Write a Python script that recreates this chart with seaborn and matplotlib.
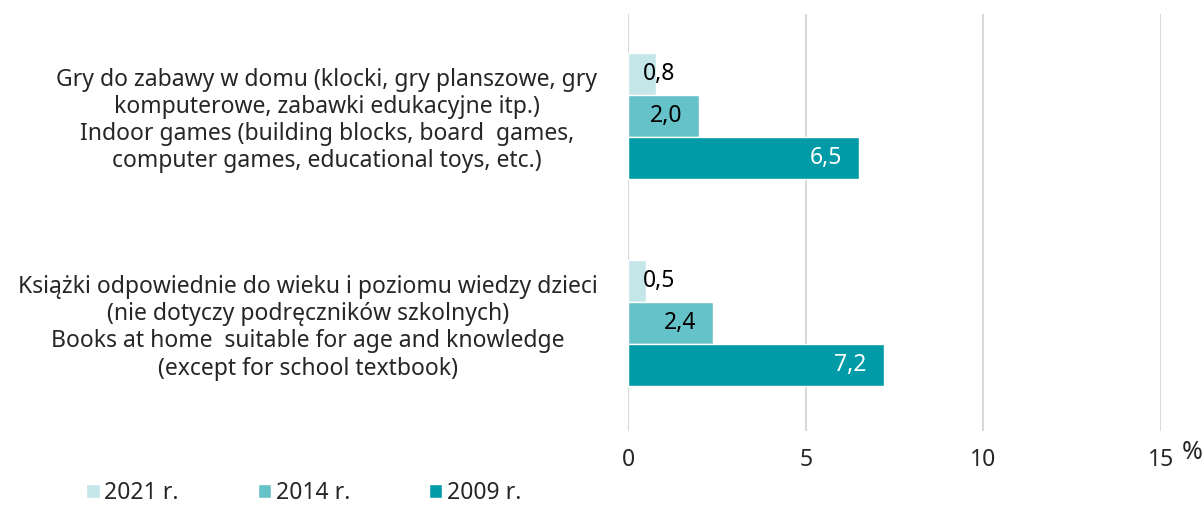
import pandas as pd
import matplotlib.pyplot as plt
import seaborn as sns

categories = [
    'Gry do zabawy w domu (klocki, gry planszowe, gry\nkomputerowe, zabawki edukacyjne itp.)\n'
    'Indoor games (building blocks, board  games,\ncomputer games, educational toys, etc.)',
    'Książki odpowiednie do wieku i poziomu wiedzy dzieci\n(nie dotyczy podręczników szkolnych)\n'
    'Books at home  suitable for age and knowledge\n(except for school textbook)',
]
years = ['2021 r.', '2014 r.', '2009 r.']
values_2021 = [0.8, 0.5]
values_2014 = [2.0, 2.4]
values_2009 = [6.5, 7.2]
colors = ['#c4e6e9', '#66c2c9', '#009ba6']
label_colors = ['black', 'black', 'white']

df = pd.DataFrame({
    'category': categories * 3,
    'year': [y for y in years for _ in categories],
    'value': values_2021 + values_2014 + values_2009,
})

sns.set_style('white')
plt.rcParams['font.family'] = ['Noto Sans', 'DejaVu Sans']
fs = 16.5

fig = plt.figure(figsize=(12.04, 5.07), dpi=100)
ax = fig.add_axes([0.5216, 0.150, 0.4427, 0.822])

sns.barplot(data=df, y='category', x='value', hue='year', hue_order=years,
            palette=colors, orient='h', width=0.61, saturation=1, ax=ax,
            errorbar=None)

ax.set_xlim(0, 15)
ax.set_ylim(1.52, -0.49)
ax.set_xticks([0, 5, 10, 15])
ax.grid(axis='x', color='#d9d9d9', linewidth=1.5)
ax.set_axisbelow(True)
for s in ax.spines.values():
    s.set_visible(False)
ax.set(xlabel='', ylabel='')
ax.tick_params(axis='x', length=0, labelsize=fs, pad=12)
ax.tick_params(axis='y', length=0, labelsize=fs, pad=22)
for t in ax.get_yticklabels():
    t.set_multialignment('center')
    t.set_linespacing(1.18)

# value labels, Excel style "inside end"
for cont, col in zip(ax.containers, label_colors):
    for bar in cont:
        v = bar.get_width()
        yc = bar.get_y() + bar.get_height() / 2
        txt = f'{v:.1f}'.replace('.', ',')
        if v < 1:
            ax.annotate(txt, (0, yc), xytext=(15, 0), textcoords='offset pixels',
                        ha='left', va='center', fontsize=fs, color=col)
        else:
            ax.annotate(txt, (v, yc), xytext=(-17, 0), textcoords='offset pixels',
                        ha='right', va='center', fontsize=fs, color=col)

fig.text(0.9905, 0.108, '%', fontsize=18, ha='center', va='center')

handles, labels = ax.get_legend_handles_labels()
ax.legend(handles, labels, loc='lower left', bbox_to_anchor=(0.0545, -0.037),
          bbox_transform=fig.transFigure, ncol=3, frameon=False, fontsize=fs,
          handlelength=0.58, handleheight=0.58, handletextpad=0.2,
          columnspacing=3.45)

fig.savefig('out.png', dpi=100)
